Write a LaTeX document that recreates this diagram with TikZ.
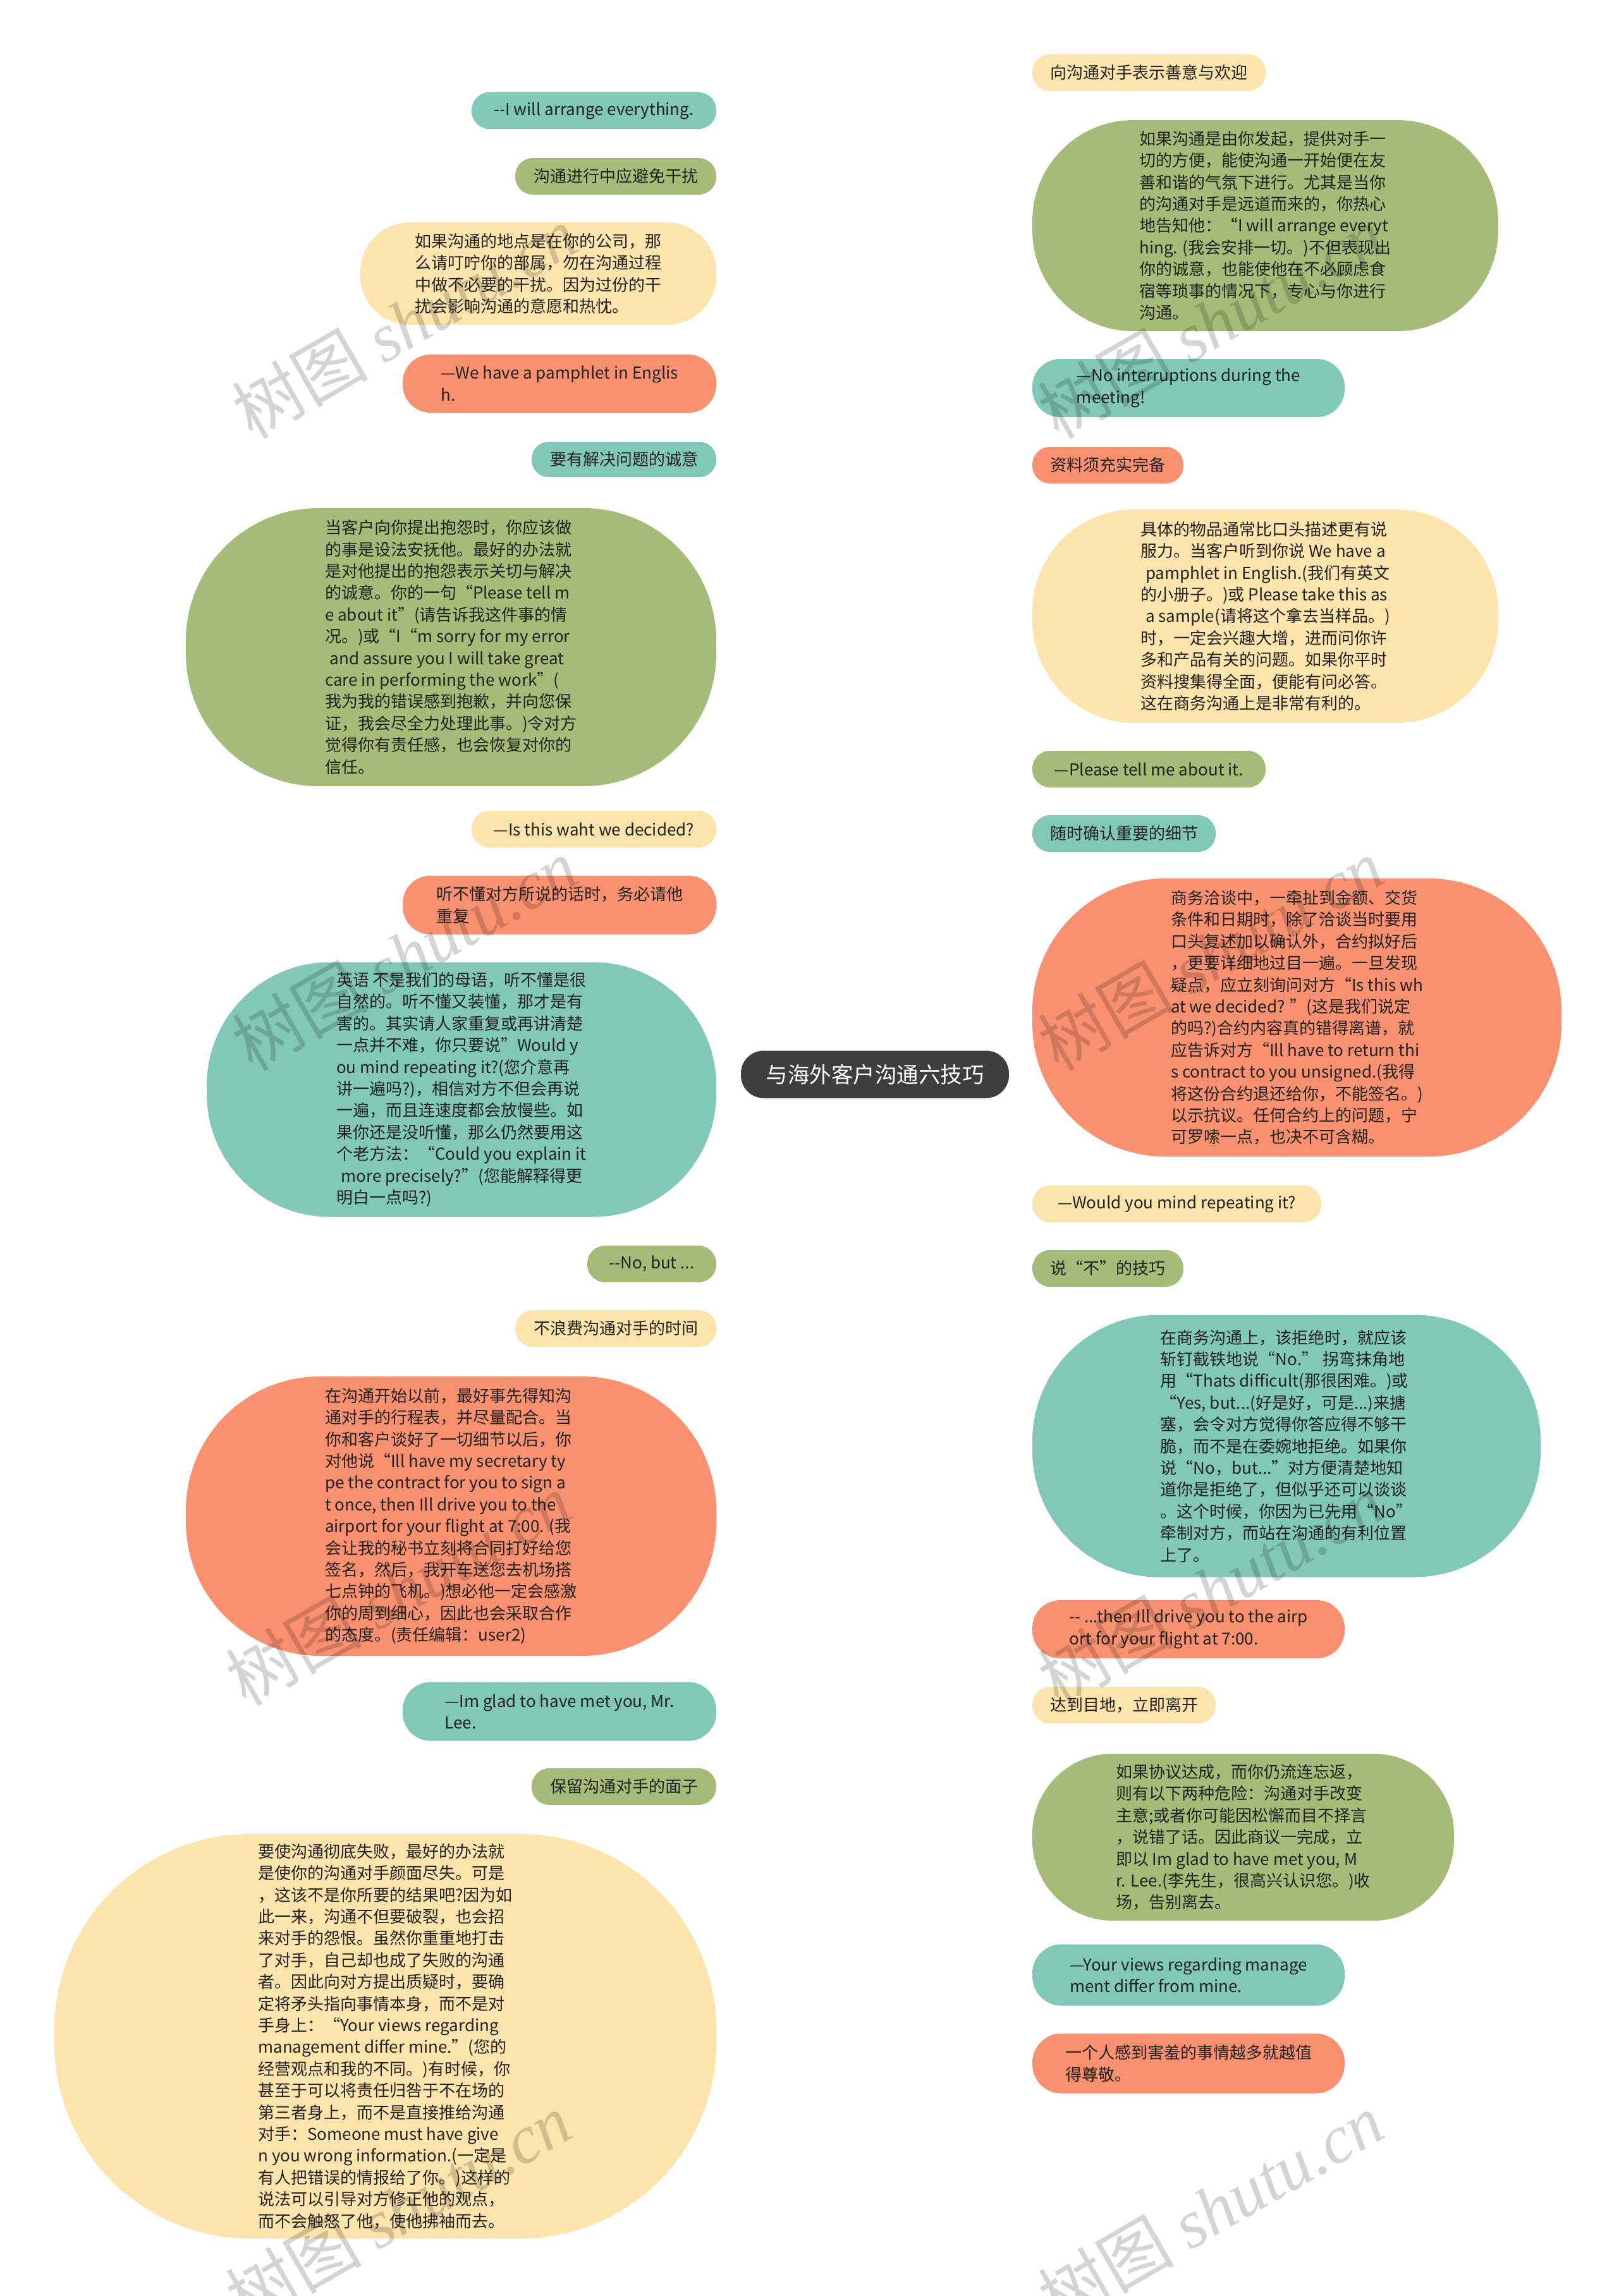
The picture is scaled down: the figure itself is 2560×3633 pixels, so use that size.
\documentclass[tikz,border=0pt]{standalone}
\usepackage{fontspec}
\setmainfont{Noto Sans CJK SC}
\newfontfamily\wmfont{Liberation Serif}
\usetikzlibrary{calc}
\definecolor{cT}{HTML}{82C8B9}
\definecolor{cG}{HTML}{A5BC78}
\definecolor{cY}{HTML}{FDE3AC}
\definecolor{cO}{HTML}{F99170}
\definecolor{cRoot}{HTML}{3E3E3E}
\definecolor{txt}{HTML}{222222}
\pgfdeclarelayer{bg}
\pgfsetlayers{bg,main}
\newcommand\linkto[2]{\draw[link,#1] (root.center) .. controls ($(root.center)!0.6667!(root.center |- #2)$) and ($(#2)!0.6667!(root.center |- #2)$) .. (#2);}
\newcommand\mydd{-\kern0pt-}
\newcommand\lsp{\hspace*{0.3em}}
\begin{document}
\begin{tikzpicture}[x=1pt,y=-1pt,
  every node/.style={inner sep=0pt, outer sep=0pt},
  box/.style={align=left, text=txt, font=\fontsize{26}{34.4}\selectfont},
  lb/.style={box, anchor=east},
  rb/.style={box, anchor=west},
  link/.style={line width=2.8pt},
  wm/.style={rotate=30, text=black, opacity=0.17, font=\fontsize{108}{118}\selectfont}
]
\fill[white] (0,0) rectangle (2560,3633);
\useasboundingbox (0,0) rectangle (2560,3633);

% root
\node[fill=cRoot, text=white, minimum width=424, minimum height=75, rounded corners=36, font=\fontsize{34.5}{40}\selectfont] (root) at (1384,1700) {与海外客户沟通六技巧};

% left nodes
\node[lb, fill=cT, minimum width=387, minimum height=58, rounded corners=28] (l1) at (1133,175) {\mydd I will arrange everything.};
\node[lb, fill=cG, minimum width=318, minimum height=58, rounded corners=28] (l2) at (1133,279) {沟通进行中应避免干扰};
\node[lb, fill=cY, minimum width=563, minimum height=162, rounded corners=78] (l3) at (1133,433) {如果沟通的地点是在你的公司，那\\么请叮咛你的部属，勿在沟通过程\\中做不必要的干扰。因为过份的干\\扰会影响沟通的意愿和热忱。};
\node[lb, fill=cO, minimum width=496, minimum height=92, rounded corners=44] (l4) at (1133,607) {—We have a pamphlet in Englis\\h.};
\node[lb, fill=cT, minimum width=292, minimum height=56, rounded corners=27] (l5) at (1133,727) {要有解决问题的诚意};
\node[lb, fill=cG, minimum width=839, minimum height=440, rounded corners=210] (l6) at (1133,1024) {当客户向你提出抱怨时，你应该做\\的事是设法安抚他。最好的办法就\\是对他提出的抱怨表示关切与解决\\的诚意。你的一句“Please tell m\\e about it”(请告诉我这件事的情\\况。)或“I“m sorry for my error\\\lsp and assure you I will take great\\care in performing the work”(\\我为我的错误感到抱歉，并向您保\\证，我会尽全力处理此事。)令对方\\觉得你有责任感，也会恢复对你的\\信任。};
\node[lb, fill=cY, minimum width=387, minimum height=58, rounded corners=28] (l7) at (1133,1312) {—Is this waht we decided?};
\node[lb, fill=cO, minimum width=496, minimum height=93, rounded corners=44] (l8) at (1133,1432) {听不懂对方所说的话时，务必请他\\重复};
\node[lb, fill=cT, minimum width=806, minimum height=403, rounded corners=195] (l9) at (1133,1724) {英语 不是我们的母语，听不懂是很\\自然的。听不懂又装懂，那才是有\\害的。其实请人家重复或再讲清楚\\一点并不难，你只要说”Would y\\ou mind repeating it?(您介意再\\讲一遍吗?)，相信对方不但会再说\\一遍，而且连速度都会放慢些。如\\果你还是没听懂，那么仍然要用这\\个老方法：“Could you explain it\\\lsp more precisely?”(您能解释得更\\明白一点吗?)};
\node[lb, fill=cG, minimum width=204, minimum height=58, rounded corners=28] (l10) at (1133,2000) {\mydd No, but ...};
\node[lb, fill=cY, minimum width=318, minimum height=58, rounded corners=28] (l11) at (1133,2102) {不浪费沟通对手的时间};
\node[lb, fill=cO, minimum width=839, minimum height=442, rounded corners=212] (l12) at (1133,2399) {在沟通开始以前，最好事先得知沟\\通对手的行程表，并尽量配合。当\\你和客户谈好了一切细节以后，你\\对他说“Ill have my secretary ty\\pe the contract for you to sign a\\t once, then Ill drive you to the\\airport for your flight at 7:00. (我\\会让我的秘书立刻将合同打好给您\\签名，然后，我开车送您去机场搭\\七点钟的飞机。)想必他一定会感激\\你的周到细心，因此也会采取合作\\的态度。(责任编辑：user2)};
\node[lb, fill=cT, minimum width=496, minimum height=93, rounded corners=44] (l13) at (1133,2708) {—Im glad to have met you, Mr.\\Lee.};
\node[lb, fill=cG, minimum width=292, minimum height=58, rounded corners=28] (l14) at (1133,2827) {保留沟通对手的面子};
\node[lb, fill=cY, minimum width=1047, minimum height=640, rounded corners=310] (l15) at (1133,3222) {要使沟通彻底失败，最好的办法就\\是使你的沟通对手颜面尽失。可是\\，这该不是你所要的结果吧?因为如\\此一来，沟通不但要破裂，也会招\\来对手的怨恨。虽然你重重地打击\\了对手，自己却也成了失败的沟通\\者。因此向对方提出质疑时，要确\\定将矛头指向事情本身，而不是对\\手身上：“Your views regarding\\management differ mine.”(您的\\经营观点和我的不同。)有时候，你\\甚至于可以将责任归咎于不在场的\\第三者身上，而不是直接推给沟通\\对手：Someone must have give\\n you wrong information.(一定是\\有人把错误的情报给了你。)这样的\\说法可以引导对方修正他的观点，\\而不会触怒了他，使他拂袖而去。};

% right nodes
\node[rb, fill=cY, minimum width=369, minimum height=58, rounded corners=28] (r1) at (1633,115) {向沟通对手表示善意与欢迎};
\node[rb, fill=cG, minimum width=737, minimum height=334, rounded corners=160] (r2) at (1633,357) {如果沟通是由你发起，提供对手一\\切的方便，能使沟通一开始便在友\\善和谐的气氛下进行。尤其是当你\\的沟通对手是远道而来的，你热心\\地告知他：“I will arrange everyt\\hing. (我会安排一切。)不但表现出\\你的诚意，也能使他在不必顾虑食\\宿等琐事的情况下，专心与你进行\\沟通。};
\node[rb, fill=cT, minimum width=494, minimum height=92, rounded corners=44] (r3) at (1633,614) {—No interruptions during the\\meeting!};
\node[rb, fill=cO, minimum width=239, minimum height=58, rounded corners=28] (r4) at (1633,736) {资料须充实完备};
\node[rb, fill=cY, minimum width=737, minimum height=338, rounded corners=162] (r5) at (1633,975) {具体的物品通常比口头描述更有说\\服力。当客户听到你说 We have a\\\lsp pamphlet in English.(我们有英文\\的小册子。)或 Please take this as\\\lsp a sample(请将这个拿去当样品。)\\时，一定会兴趣大增，进而问你许\\多和产品有关的问题。如果你平时\\资料搜集得全面，便能有问必答。\\这在商务沟通上是非常有利的。};
\node[rb, fill=cG, minimum width=369, minimum height=58, rounded corners=28] (r6) at (1633,1217) {—Please tell me about it.};
\node[rb, fill=cT, minimum width=290, minimum height=58, rounded corners=28] (r7) at (1633,1319) {随时确认重要的细节};
\node[rb, fill=cO, minimum width=837, minimum height=440, rounded corners=210] (r8) at (1633,1610) {商务洽谈中，一牵扯到金额、交货\\条件和日期时，除了洽谈当时要用\\口头复述加以确认外，合约拟好后\\，更要详细地过目一遍。一旦发现\\疑点，应立刻询问对方“Is this wh\\at we decided? ”(这是我们说定\\的吗?)合约内容真的错得离谱，就\\应告诉对方“Ill have to return thi\\s contract to you unsigned.(我得\\将这份合约退还给你，不能签名。)\\以示抗议。任何合约上的问题，宁\\可罗嗦一点，也决不可含糊。};
\node[rb, fill=cY, minimum width=457, minimum height=58, rounded corners=28] (r9) at (1633,1905) {—Would you mind repeating it?};
\node[rb, fill=cG, minimum width=239, minimum height=58, rounded corners=28] (r10) at (1633,2007) {说“不”的技巧};
\node[rb, fill=cT, minimum width=804, minimum height=415, rounded corners=200] (r11) at (1633,2288) {在商务沟通上，该拒绝时，就应该\\斩钉截铁地说“No.” 拐弯抹角地\\用“Thats difficult(那很困难。)或\\“Yes, but...(好是好，可是...)来搪\\塞，会令对方觉得你答应得不够干\\脆，而不是在委婉地拒绝。如果你\\说“No，but...”对方便清楚地知\\道你是拒绝了，但似乎还可以谈谈\\。这个时候，你因为已先用“No”\\牵制对方，而站在沟通的有利位置\\上了。};
\node[rb, fill=cO, minimum width=494, minimum height=92, rounded corners=44] (r12) at (1633,2578) {\mydd\ ...then Ill drive you to the airp\\ort for your flight at 7:00.};
\node[rb, fill=cY, minimum width=290, minimum height=58, rounded corners=28] (r13) at (1633,2698) {达到目地，立即离开};
\node[rb, fill=cG, minimum width=667, minimum height=264, rounded corners=127] (r14) at (1633,2907) {如果协议达成，而你仍流连忘返，\\则有以下两种危险：沟通对手改变\\主意;或者你可能因松懈而目不择言\\，说错了话。因此商议一完成，立\\即以 Im glad to have met you, M\\r. Lee.(李先生，很高兴认识您。)收\\场，告别离去。};
\node[rb, fill=cT, minimum width=494, minimum height=97, rounded corners=46] (r15) at (1633,3125) {—Your views regarding manage\\ment differ from mine.};
\node[rb, fill=cO, minimum width=494, minimum height=95, rounded corners=46] (r16) at (1633,3265) {一个人感到害羞的事情越多就越值\\得尊敬。};

% connectors
\begin{pgfonlayer}{bg}
\linkto{cT}{l1.east}
\linkto{cG}{l2.east}
\linkto{cY}{l3.east}
\linkto{cO}{l4.east}
\linkto{cT}{l5.east}
\linkto{cG}{l6.east}
\linkto{cY}{l7.east}
\linkto{cO}{l8.east}
\linkto{cT}{l9.east}
\linkto{cG}{l10.east}
\linkto{cY}{l11.east}
\linkto{cO}{l12.east}
\linkto{cT}{l13.east}
\linkto{cG}{l14.east}
\linkto{cY}{l15.east}
\linkto{cY}{r1.west}
\linkto{cG}{r2.west}
\linkto{cT}{r3.west}
\linkto{cO}{r4.west}
\linkto{cY}{r5.west}
\linkto{cG}{r6.west}
\linkto{cT}{r7.west}
\linkto{cO}{r8.west}
\linkto{cY}{r9.west}
\linkto{cG}{r10.west}
\linkto{cT}{r11.west}
\linkto{cO}{r12.west}
\linkto{cY}{r13.west}
\linkto{cG}{r14.west}
\linkto{cT}{r15.west}
\linkto{cO}{r16.west}
\end{pgfonlayer}

% watermarks
\node[wm] (w1) at (640,510) {树图 {\wmfont\itshape shutu.cn}};
\node[wm] (w2) at (1915,510) {树图 {\wmfont\itshape shutu.cn}};
\node[wm] (w3) at (640,1510) {树图 {\wmfont\itshape shutu.cn}};
\node[wm] (w4) at (1915,1510) {树图 {\wmfont\itshape shutu.cn}};
\node[wm] (w5) at (630,2515) {树图 {\wmfont\itshape shutu.cn}};
\node[wm] (w6) at (1915,2515) {树图 {\wmfont\itshape shutu.cn}};
\node[wm] (w7) at (630,3495) {树图 {\wmfont\itshape shutu.cn}};
\node[wm] (w8) at (1915,3495) {树图 {\wmfont\itshape shutu.cn}};
\end{tikzpicture}
\end{document}
